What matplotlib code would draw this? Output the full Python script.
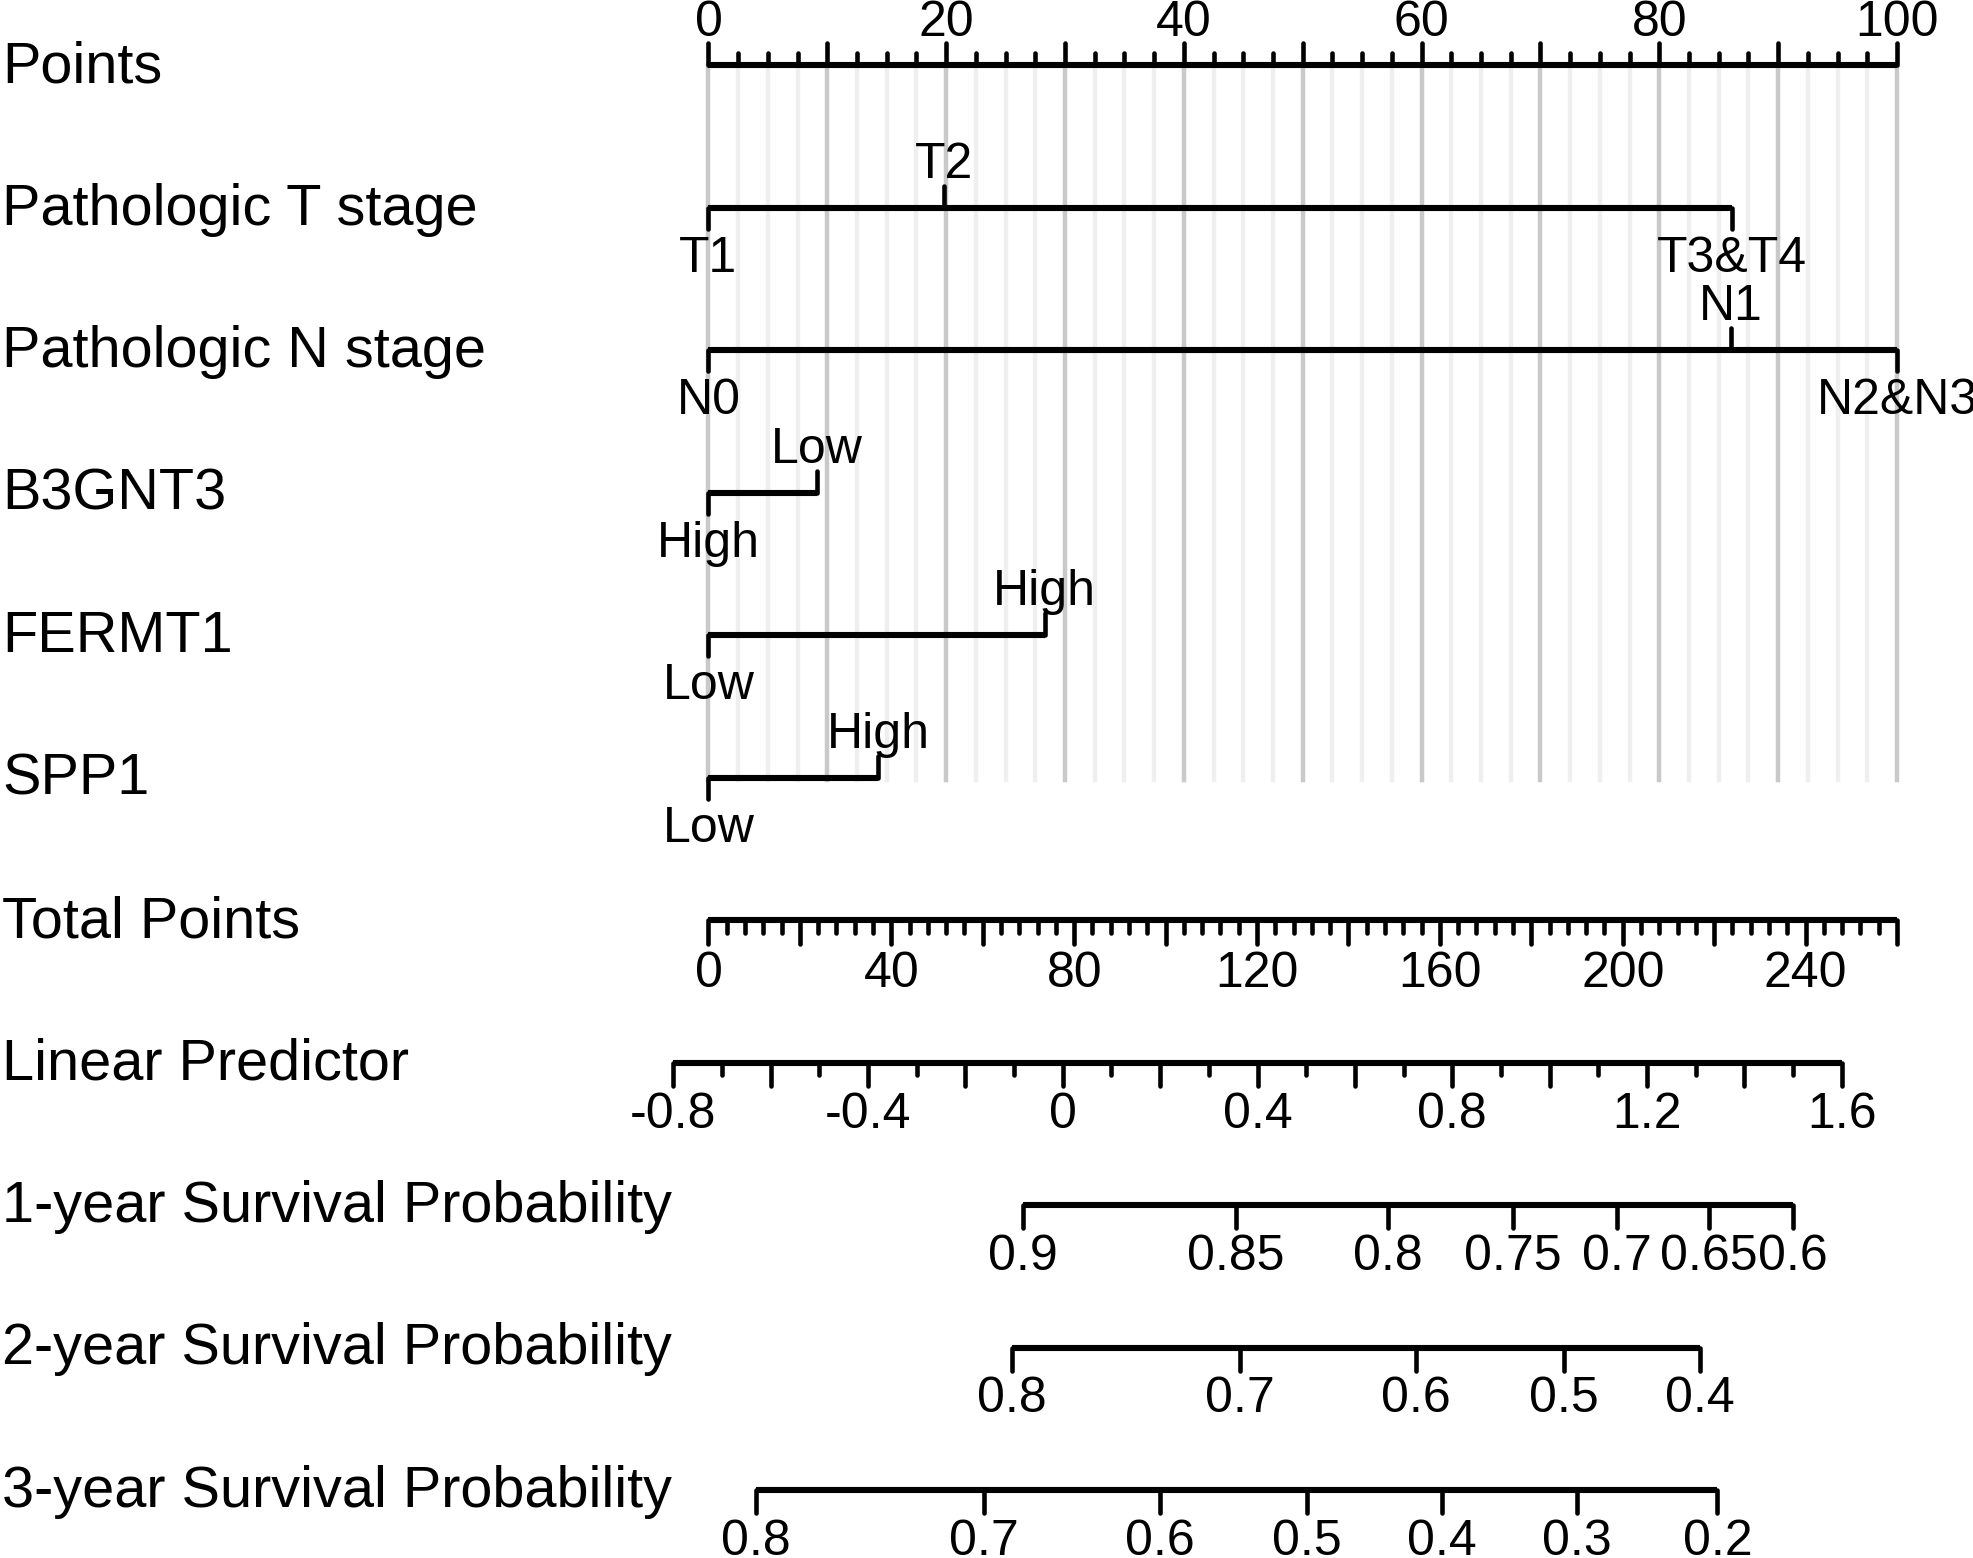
import matplotlib
matplotlib.use("Agg")
import matplotlib.pyplot as plt
import numpy as np

plt.rcParams["font.family"] = ["Liberation Sans", "DejaVu Sans"]

# row names, top to bottom
ROWS = ["Points", "Pathologic T stage", "Pathologic N stage", "B3GNT3", "FERMT1",
        "SPP1", "Total Points", "Linear Predictor", "1-year Survival Probability",
        "2-year Survival Probability", "3-year Survival Probability"]

# factor levels and their points (0-100 scale); labels alternate below / above
T_LEVELS = ["T1", "T2", "T3&T4"]
T_POINTS = [0, 19.8, 86.15]
N_LEVELS = ["N0", "N1", "N2&N3"]
N_POINTS = [0, 86.0, 100]
B3_LEVELS = ["High", "Low"]
B3_POINTS = [0, 9.1]
FE_LEVELS = ["Low", "High"]
FE_POINTS = [0, 28.3]
SPP_LEVELS = ["Low", "High"]
SPP_POINTS = [0, 14.3]

TOTAL_MAX = 260
TOTAL_LABELS = [0, 40, 80, 120, 160, 200, 240]

# linear predictor: total points at lp = 0 and per unit lp
LP_TICKS = [-0.8, -0.4, 0, 0.4, 0.8, 1.2, 1.6]
LP_AT_ZERO = 77.5
LP_SLOPE = 106.5

# survival probability ticks and the total points they sit at
S1_LABELS = ["0.9", "0.85", "0.8", "0.75", "0.7", "0.65", "0.6"]
S1_TOTAL = [68.8, 115.3, 148.6, 175.9, 198.7, 218.8, 237.2]
S2_LABELS = ["0.8", "0.7", "0.6", "0.5", "0.4"]
S2_TOTAL = [66.4, 116.3, 154.7, 187.2, 216.8]
S3_LABELS = ["0.8", "0.7", "0.6", "0.5", "0.4", "0.3", "0.2"]
S3_TOTAL = [10.4, 60.3, 98.7, 130.9, 160.5, 190.0, 220.7]

W, H = 1973, 1558
fig = plt.figure(figsize=(W / 100, H / 100), dpi=100)
ax = fig.add_axes([0, 0, 1, 1])
ax.set_xlim(-59.61, 106.39)
ax.set_ylim(H, 0)
ax.axis("off")

ROW_Y = [65 + 142.5 * i for i in range(len(ROWS))]
LABEL_FS = 41.5
TICK_FS = 36
LINE_LW = 4.4
TICK_LW = 3.3
ABOVE = -30   # baseline offset for labels above the line
BELOW = 65    # baseline offset for labels below the line


def tp2pts(tp):
    return np.asarray(tp, dtype=float) * 100.0 / TOTAL_MAX


def hline(x0, x1, y):
    ax.plot([x0, x1], [y, y], color="black", lw=LINE_LW, solid_capstyle="butt", zorder=3)


def tick(x, y, length):
    ax.plot([x, x], [y, y + length], color="black", lw=TICK_LW, solid_capstyle="round", zorder=3)


# row labels
for name, y in zip(ROWS, ROW_Y):
    ax.text(-59.45, y + 2, name, fontsize=LABEL_FS, ha="left", va="center")

# grid behind the predictor rows
for g in np.arange(0, 100.01, 2.5):
    col = "#c9c9c9" if abs(g % 10) < 1e-9 else "#efefef"
    ax.plot([g, g], [ROW_Y[0], 780], color=col, lw=3.2, zorder=1)

# Points axis
y = ROW_Y[0]
hline(0, 100, y)
for v in np.arange(0, 100.01, 2.5):
    major = abs(v % 10) < 1e-9
    tick(v, y, -22 if major else -12)
for v in range(0, 101, 20):
    ax.text(v, y - 29, str(v), fontsize=TICK_FS, ha="center", va="baseline")

# factor rows
factors = [(T_LEVELS, T_POINTS), (N_LEVELS, N_POINTS), (B3_LEVELS, B3_POINTS),
           (FE_LEVELS, FE_POINTS), (SPP_LEVELS, SPP_POINTS)]
for (levels, pts), y in zip(factors, ROW_Y[1:6]):
    hline(min(pts), max(pts), y)
    for i, (lev, p) in enumerate(zip(levels, pts)):
        if i % 2 == 0:
            tick(p, y, 21)
            ax.text(p, y + BELOW - 1, lev, fontsize=TICK_FS, ha="center", va="baseline")
        else:
            tick(p, y, -22)
            ax.text(p, y + ABOVE, lev, fontsize=TICK_FS, ha="center", va="baseline")

# Total Points
y = ROW_Y[6]
hline(0, 100, y)
for v in range(0, TOTAL_MAX + 1, 4):
    tick(tp2pts(v), y, 24 if v % 20 == 0 else 13)
for v in TOTAL_LABELS:
    ax.text(tp2pts(v), y + BELOW + 2, str(v), fontsize=TICK_FS, ha="center", va="baseline")

# Linear Predictor
y = ROW_Y[7]
lp_all = np.round(np.arange(LP_TICKS[0], LP_TICKS[-1] + 0.001, 0.1), 1)
lp_x = tp2pts(LP_AT_ZERO + LP_SLOPE * lp_all)
hline(lp_x[0], lp_x[-1], y)
for k, x in enumerate(lp_x):
    tick(x, y, 23 if k % 2 == 0 else 12)
for v in LP_TICKS:
    lab = "0" if v == 0 else f"{v:g}"
    ax.text(tp2pts(LP_AT_ZERO + LP_SLOPE * v), y + BELOW + 1, lab,
            fontsize=TICK_FS, ha="center", va="baseline")

# survival probability rows
for labels, totals, y in [(S1_LABELS, S1_TOTAL, ROW_Y[8]),
                          (S2_LABELS, S2_TOTAL, ROW_Y[9]),
                          (S3_LABELS, S3_TOTAL, ROW_Y[10])]:
    xs = tp2pts(totals)
    hline(xs[0], xs[-1], y)
    for lab, x in zip(labels, xs):
        tick(x, y, 23)
        ax.text(x, y + BELOW, lab, fontsize=TICK_FS, ha="center", va="baseline")

fig.savefig("out.png", dpi=100)
